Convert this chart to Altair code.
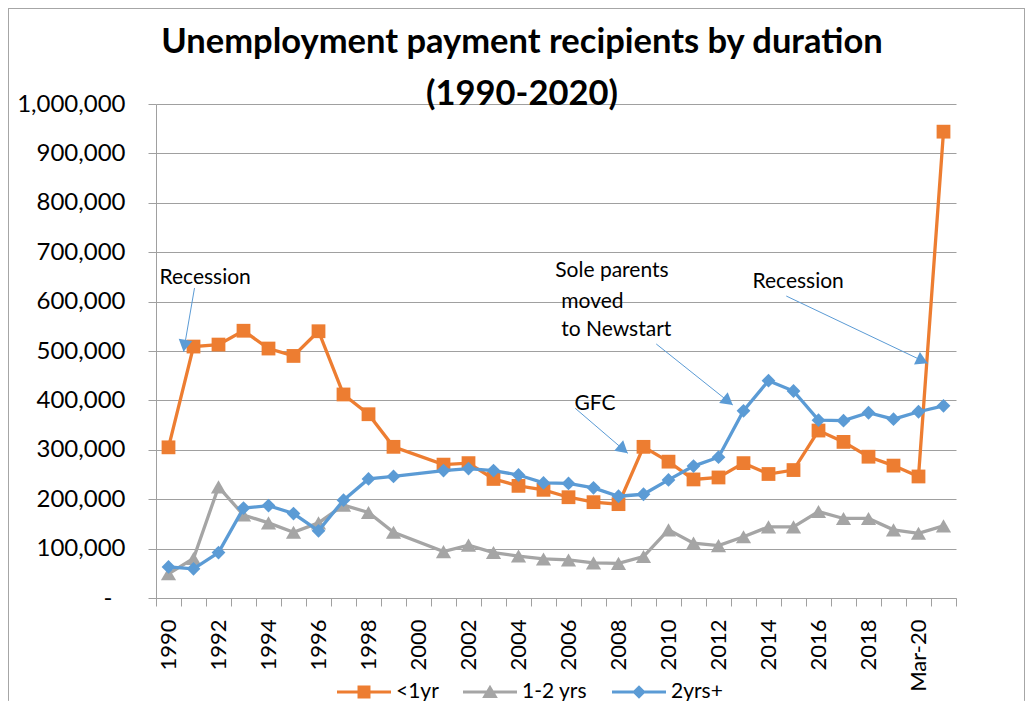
import math
import altair as alt
import pandas as pd

# ---------------- data ----------------
categories = ["1990", "1991", "1992", "1993", "1994", "1995", "1996", "1997",
              "1998", "1999", "2000", "2001", "2002", "2003", "2004", "2005",
              "2006", "2007", "2008", "2009", "2010", "2011", "2012", "2013",
              "2014", "2015", "2016", "2017", "2018", "2019", "Mar-20", "Apr-20"]

tick_labels = ["1990", "1992", "1994", "1996", "1998", "2000", "2002", "2004",
               "2006", "2008", "2010", "2012", "2014", "2016", "2018", "Mar-20"]

series_names = ["<1yr", "1-2 yrs", "2yrs+"]
series_colors = ["#ED7D31", "#A5A5A5", "#5B9BD5"]
series_shapes = ["square", "triangle-up", "diamond"]

under_1yr = [305000, 509000, 513000, 541000, 505000, 490000, 540000, 412000,
             372000, 306000, None, 270000, 273000, 241000, 227000, 219000,
             204000, 194000, 190000, 306000, 276000, 240000, 244000, 273000,
             251000, 259000, 339000, 316000, 286000, 268000, 246000, 944000]

one_to_two_yrs = [49000, 80000, 225000, 168000, 152000, 133000, 152000, 188000,
                  173000, 133000, None, 94000, 107000, 92000, 85000, 79000,
                  77000, 71000, 70000, 84000, 138000, 111000, 106000, 124000,
                  144000, 144000, 175000, 161000, 161000, 138000, 131000, 146000]

two_plus_yrs = [63000, 59000, 92000, 182000, 187000, 171000, 136000, 198000,
                241000, 246000, None, 258000, 262000, 258000, 249000, 233000,
                232000, 223000, 206000, 210000, 239000, 267000, 285000, 379000,
                440000, 419000, 360000, 359000, 375000, 362000, 377000, 389000]

# annotations (category index, value)
ann_text = ["Recession", "GFC", "Sole parents", "moved", "to Newstart", "Recession"]
ann_x = [-0.36, 16.24, 15.47, 15.71, 15.71, 23.36]
ann_y = [647800, 392700, 662600, 599800, 542500, 639000]

arrow_x1 = [1.04, 16.27, 19.51, 24.71]
arrow_y1 = [627500, 384000, 514200, 611300]
arrow_x2 = [0.60, 18.37, 22.57, 30.37]
arrow_y2 = [498600, 292900, 390700, 475100]

# ---------------- layout ----------------
W, H = 800, 494
PAD = {"left": 148, "top": 96, "right": 69, "bottom": 103}
FONT = "Lato"
PX_X = W / len(categories)
PX_Y = H / 1_000_000
HEAD_SIZE = 190
HEAD_H = math.sqrt(3) * (math.sqrt(HEAD_SIZE) / 2) / 2

# ---------------- frames ----------------
rows = []
for name, vals in zip(series_names, [under_1yr, one_to_two_yrs, two_plus_yrs]):
    for i, v in enumerate(vals):
        if v is not None:
            rows.append({"idx": i, "cat": categories[i], "series": name, "value": v})
df = pd.DataFrame(rows)

ann_df = pd.DataFrame({"x": ann_x, "y": ann_y, "label": ann_text})

arr_rows = []
for x1, y1, x2, y2 in zip(arrow_x1, arrow_y1, arrow_x2, arrow_y2):
    dxp = (x2 - x1) * PX_X
    dyp = -(y2 - y1) * PX_Y
    L = math.hypot(dxp, dyp)
    ux, uy = dxp / L, dyp / L
    ang = math.degrees(math.atan2(ux, -uy)) % 360
    hx = x2 - HEAD_H * ux / PX_X
    hy = y2 + HEAD_H * uy / PX_Y
    arr_rows.append({"x1": x1, "y1": y1, "x2": x2, "y2": y2,
                     "hx": hx, "hy": hy, "ang": ang})
arr_df = pd.DataFrame(arr_rows)

legend_df = pd.DataFrame({"series": series_names})

# ---------------- scales / axes ----------------
label_arr = "[" + ",".join(
    "'" + (c if c in tick_labels else "") + "'" for c in categories) + "]"

x_scale = alt.Scale(domain=[-0.5, len(categories) - 0.5], nice=False, zero=False)
y_scale = alt.Scale(domain=[0, 1_000_000], nice=False)

x_axis = alt.Axis(
    values=[i * 0.5 - 0.5 for i in range(2 * len(categories) + 1)],
    labelExpr=f"datum.value % 1 == 0 ? {label_arr}[datum.value] : ''",
    labelAngle=-90, labelOverlap=False, labelFlush=False,
    labelFont=FONT, labelFontSize=22, labelColor="black", labelPadding=13,
    tickSize=8, tickColor="#A0A0A0", domainColor="#A0A0A0",
    tickOpacity={"condition": {"test": "datum.value % 1 == 0", "value": 0}, "value": 1},
    grid=False, title=None,
)
y_axis = alt.Axis(
    values=list(range(0, 1_000_001, 100_000)),
    labelExpr="datum.value == 0 ? '-' : format(datum.value, ',')",
    labelFont=FONT, labelFontSize=24, labelColor="black",
    labelPadding={"condition": {"test": "datum.value == 0", "value": 36}, "value": 23},
    tickSize=8, tickColor="#A0A0A0", domainColor="#A0A0A0",
    gridColor="#A0A0A0", gridWidth=1, title=None,
)


def X(f):
    return alt.X(f, scale=x_scale, axis=x_axis)


def Y(f):
    return alt.Y(f, scale=y_scale, axis=y_axis)


base = alt.Chart(df)
layers = []
for name, col, shp in zip(series_names, series_colors, series_shapes):
    sub = base.transform_filter(alt.datum.series == name)
    layers.append(sub.mark_line(color=col, strokeWidth=3.3).encode(
        x=X("idx:Q"), y=Y("value:Q")))
    layers.append(sub.mark_point(shape=shp, filled=True, color=col, opacity=1,
                                 size=190 if shp != "triangle-up" else 230)
                  .encode(x=X("idx:Q"), y=Y("value:Q")))

arrows = alt.Chart(arr_df).mark_rule(color="#5B9BD5", strokeWidth=1).encode(
    x=X("x1:Q"), y=Y("y1:Q"), x2="x2:Q", y2="y2:Q")
heads = alt.Chart(arr_df).mark_point(shape="triangle-up", filled=True,
                                     color="#5B9BD5", opacity=1, size=HEAD_SIZE).encode(
    x=X("hx:Q"), y=Y("hy:Q"), angle=alt.Angle("ang:Q", scale=None))
texts = alt.Chart(ann_df).mark_text(align="left", baseline="middle", font=FONT,
                                    fontSize=21, color="black").encode(
    x=X("x:Q"), y=Y("y:Q"), text="label:N")

line_bar = "M-1,-0.06H1V0.06H-1Z "
legend_paths = [line_bar + "M-0.24,-0.24H0.24V0.24H-0.24Z",
                line_bar + "M0,-0.27L0.29,0.22H-0.29Z",
                line_bar + "M0,-0.25L0.25,0L0,0.25L-0.25,0Z"]
legend_layer = alt.Chart(legend_df).transform_filter("false").mark_point(
    filled=True, opacity=1).encode(
    color=alt.Color("series:N", scale=alt.Scale(domain=series_names, range=series_colors),
                    legend=alt.Legend(orient="none", legendX=181, legendY=561,
                                      direction="horizontal", title=None,
                                      symbolSize=2916, symbolStrokeWidth=0,
                                      labelFont=FONT, labelFontSize=21,
                                      labelColor="black", labelOffset=5,
                                      columnPadding=24)),
    shape=alt.Shape("series:N", scale=alt.Scale(domain=series_names, range=legend_paths)))

frame = alt.Chart(legend_df).mark_rule(color="#A6A6A6", strokeWidth=1).encode(
    x=alt.value(-147.5), y=alt.value(-95.5), y2=alt.value(596.5))
frame_top = alt.Chart(legend_df).mark_rule(color="#A6A6A6", strokeWidth=1).encode(
    x=alt.value(-147.5), x2=alt.value(868.5), y=alt.value(-95.5))
frame_right = alt.Chart(legend_df).mark_rule(color="#A6A6A6", strokeWidth=1).encode(
    x=alt.value(868.5), y=alt.value(-95.5), y2=alt.value(596.5))

chart = alt.layer(
    *layers, arrows, heads, texts, legend_layer, frame, frame_top, frame_right
).properties(
    width=W, height=H,
    title=alt.TitleParams(
        text=["Unemployment payment recipients by duration", "(1990-2020)"],
        font=FONT, fontSize=34.5, fontWeight="bold", color="black",
        anchor="middle", dx=-34, dy=142, baseline="bottom", lineHeight=52, offset=4),
    autosize=alt.AutoSizeParams(type="none"),
    padding=PAD,
    background="white",
).configure_view(stroke=None)

chart.save("out.html", embed_options={"renderer": "svg", "actions": False})
